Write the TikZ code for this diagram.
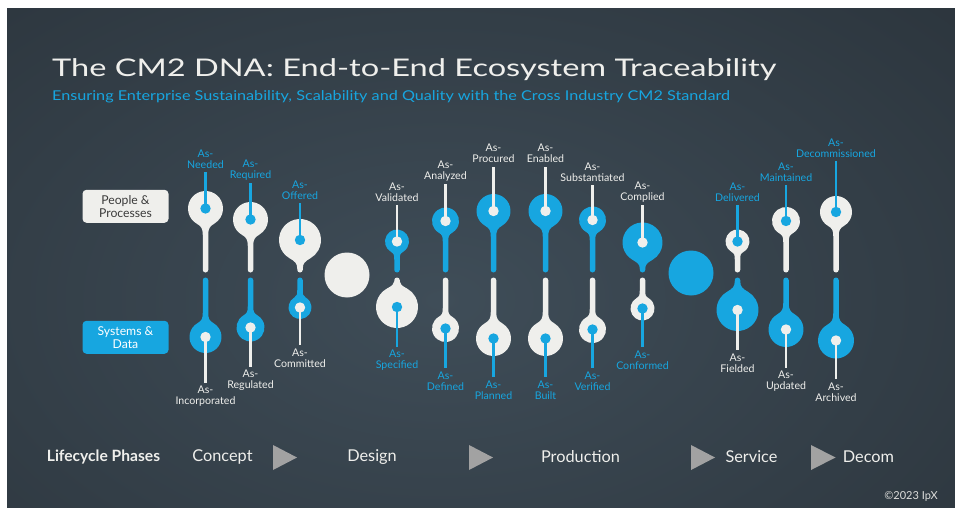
\documentclass[tikz,border=0pt]{standalone}
\usepackage{fontspec}
\setmainfont{Lato}
\newfontfamily\titlefont[FakeStretch=1.34]{Lato}
\newfontfamily\subfont[FakeStretch=1.2]{Lato}

\definecolor{cmblue}{HTML}{17A6E0}
\definecolor{cmwhite}{HTML}{EFEFEC}
\definecolor{slidebase}{HTML}{272F36}
\definecolor{slidelight}{HTML}{3F4D58}
\definecolor{phasegray}{HTML}{A2A2A2}
\definecolor{boxtext}{HTML}{3A3A3A}

% geometry of the stems (in px-like units)
\def\stemW{2.75}
\def\topEnd{272.5}
\def\botStart{277.5}

% knob with its head above and its stem running down to the centre line
% #1 name, #2 x, #3 head y, #4 head radius, #5 end of label line,
% #6 body colour, #7 dot/line/label colour, #8 second label line
\newcommand\KnobUp[8]{%
  \pgfmathsetmacro\nk{min(0.5*#4, \topEnd-\stemW-#3-#4-1)}%
  \fill[#6] ({#2-\stemW},{\topEnd-\stemW})
    -- ({#2-\stemW},{#3+#4+\nk})
    .. controls ({#2-\stemW},{#3+#4+0.3*\nk}) and ({#2-0.24*#4},{#3+1.016*#4}) ..
    ({#2-0.5*#4},{#3+0.866*#4})
    arc[start angle=120, end angle=420, radius=#4]
    .. controls ({#2+0.24*#4},{#3+1.016*#4}) and ({#2+\stemW},{#3+#4+0.3*\nk}) ..
    ({#2+\stemW},{#3+#4+\nk})
    -- ({#2+\stemW},{\topEnd-\stemW})
    arc[start angle=0, end angle=180, radius=\stemW]
    -- cycle;
  \coordinate (#1-dot) at (#2,#3);
  \coordinate (#1-end) at (#2,#5);
  \fill[#7] (#1-dot) circle[radius=5.2];
  \draw[tick, #7] (#1-dot) -- (#1-end);
  \node[lbl, text=#7] (#1-lbl) at (#2,{#5-13}) {As-\\#8};
}

% knob with its stem starting at the centre line and its head below
\newcommand\KnobDown[8]{%
  \pgfmathsetmacro\nk{min(0.5*#4, #3-#4-\botStart-\stemW-1)}%
  \fill[#6] ({#2+\stemW},{\botStart+\stemW})
    arc[start angle=0, end angle=-180, radius=\stemW]
    -- ({#2-\stemW},{#3-#4-\nk})
    .. controls ({#2-\stemW},{#3-#4-0.3*\nk}) and ({#2-0.24*#4},{#3-1.016*#4}) ..
    ({#2-0.5*#4},{#3-0.866*#4})
    arc[start angle=-120, end angle=-420, radius=#4]
    .. controls ({#2+0.24*#4},{#3-1.016*#4}) and ({#2+\stemW},{#3-#4-0.3*\nk}) ..
    ({#2+\stemW},{#3-#4-\nk})
    -- cycle;
  \coordinate (#1-dot) at (#2,#3);
  \coordinate (#1-end) at (#2,#5);
  \fill[#7] (#1-dot) circle[radius=5.2];
  \draw[tick, #7] (#1-dot) -- (#1-end);
  \node[lbl, text=#7] (#1-lbl) at (#2,{#5+13}) {As-\\#8};
}

\begin{document}
\begin{tikzpicture}[x=1pt, y=-1pt,
  lbl/.style={font=\fontsize{10.6}{11}\selectfont, align=center, inner sep=0pt},
  tick/.style={line width=2.6pt},
  sidebox/.style={rounded corners=4pt, minimum width=86pt, minimum height=33pt,
    align=center, inner sep=0pt, font=\fontsize{12.2}{13}\selectfont},
  hub/.style={circle, minimum size=45pt, inner sep=0pt},
  phase/.style={font=\fontsize{16.3}{17}\selectfont, text=cmwhite, inner sep=0pt},
  phasetip/.style={fill=phasegray}]

\useasboundingbox (0,0) rectangle (955,508);
\fill[white] (0,0) rectangle (955,508);

% slide background
\begin{scope}
  \clip (7,9) rectangle (955,508);
  \fill[slidebase] (7,9) rectangle (955,508);
  \shade[inner color=slidelight, outer color=slidebase] (440,300) ellipse[x radius=900, y radius=560];
\end{scope}

% headings
\node[anchor=base west, inner sep=0pt, text=cmwhite, font=\titlefont\fontsize{24.3}{28}\selectfont] (title) at (52,77)
  {The CM2 DNA: End-to-End Ecosystem Traceability};
\node[anchor=base west, inner sep=0pt, text=cmblue, font=\subfont\fontsize{13.5}{15}\selectfont] (subtitle) at (52,101)
  {Ensuring Enterprise Sustainability, Scalability and Quality with the Cross Industry CM2 Standard};

% row labels
\node[sidebox, fill=cmwhite, text=boxtext] (people) at (125.5,206.3) {People \&\\Processes};
\node[sidebox, fill=cmblue, text=white] (systems) at (125.5,337.3) {Systems \&\\Data};

% separators between phases
\node[hub, fill=cmwhite] (hubA) at (347,275) {};
\node[hub, fill=cmblue] (hubB) at (691,273) {};

% upper knobs
\KnobUp{needed}{205.5}{208.5}{17.5}{172}{cmwhite}{cmblue}{Needed}
\KnobUp{required}{250.5}{219.5}{17.5}{183}{cmwhite}{cmblue}{Required}
\KnobUp{offered}{300}{240}{21}{203}{cmwhite}{cmblue}{Offered}
\KnobUp{validated}{397}{241.5}{12}{205}{cmblue}{cmwhite}{Validated}
\KnobUp{analyzed}{445.5}{221}{13.5}{184}{cmblue}{cmwhite}{Analyzed}
\KnobUp{procured}{493.5}{211}{17}{166.5}{cmblue}{cmwhite}{Procured}
\KnobUp{enabled}{545.5}{211}{17}{166.5}{cmblue}{cmwhite}{Enabled}
\KnobUp{substantiated}{592.5}{220}{13.5}{185}{cmblue}{cmwhite}{Substantiated}
\KnobUp{complied}{642.5}{242.5}{20}{205}{cmblue}{cmwhite}{Complied}
\KnobUp{delivered}{737.5}{241.5}{12}{205}{cmwhite}{cmblue}{Delivered}
\KnobUp{maintained}{786}{221}{14}{185}{cmwhite}{cmblue}{Maintained}
\KnobUp{decommissioned}{836}{212}{16}{161}{cmwhite}{cmblue}{Decommissioned}

% lower knobs
\KnobDown{incorporated}{205.5}{337}{16}{383}{cmblue}{cmwhite}{Incorporated}
\KnobDown{regulated}{250.5}{327.5}{14}{367}{cmblue}{cmwhite}{Regulated}
\KnobDown{committed}{300}{307.5}{11.5}{345}{cmblue}{cmwhite}{Committed}
\KnobDown{specified}{397}{307}{21}{347}{cmwhite}{cmblue}{Specified}
\KnobDown{defined}{445.5}{328.5}{13.5}{368}{cmwhite}{cmblue}{Defined}
\KnobDown{planned}{493.5}{338.5}{17.5}{377}{cmwhite}{cmblue}{Planned}
\KnobDown{built}{545.5}{338.5}{17.5}{377}{cmwhite}{cmblue}{Built}
\KnobDown{verified}{592.5}{329.5}{13.5}{368}{cmwhite}{cmblue}{Verified}
\KnobDown{conformed}{642.5}{308.5}{12}{347}{cmwhite}{cmblue}{Conformed}
\KnobDown{fielded}{737.5}{310}{21}{350}{cmblue}{cmwhite}{Fielded}
\KnobDown{updated}{786}{329.5}{17.5}{368}{cmblue}{cmwhite}{Updated}
\KnobDown{archived}{836}{340.5}{18}{379}{cmblue}{cmwhite}{Archived}

% lifecycle phases
\node[phase, font=\bfseries\fontsize{15.6}{17}\selectfont] (phases) at (103.5,457) {Lifecycle Phases};
\node[phase] (concept) at (222.5,457) {Concept};
\node[phase] (design) at (372,457) {Design};
\node[phase] (production) at (580.5,457) {Production};
\node[phase] (service) at (751.5,457) {Service};
\node[phase] (decom) at (868.5,457) {Decom};
\fill[phasetip] (273,445) -- (273,470) -- (297,457.5) -- cycle;
\fill[phasetip] (469,445) -- (469,470) -- (493,457.5) -- cycle;
\fill[phasetip] (691,445) -- (691,470) -- (715,457.5) -- cycle;
\fill[phasetip] (811,445) -- (811,470) -- (835.5,457.5) -- cycle;

\node[inner sep=0pt, text=cmwhite!85!gray, font=\fontsize{11}{12}\selectfont] (copyright) at (911,496.5) {©2023 IpX};
\end{tikzpicture}
\end{document}
